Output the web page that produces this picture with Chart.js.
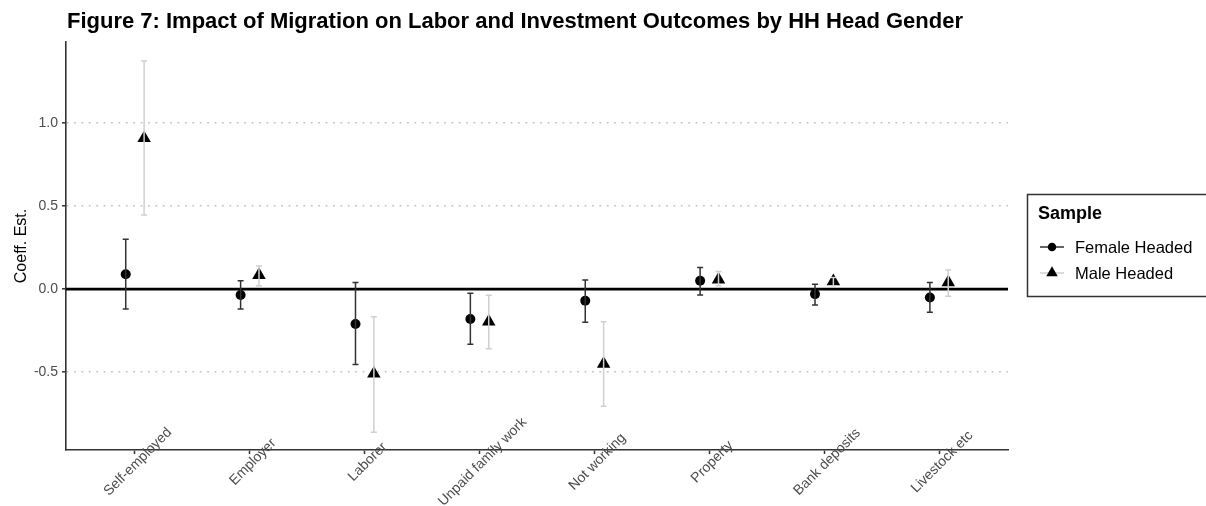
<!DOCTYPE html>
<html>
<head>
<meta charset="utf-8">
<script src="https://cdn.jsdelivr.net/npm/chart.js@4/dist/chart.umd.min.js"></script>
<style>
  body { margin: 0; background: #fff; }
  #wrap { width: 1206px; height: 506px; position: relative; }
</style>
</head>
<body>
<div id="wrap"><canvas id="coefChart"></canvas></div>
<script>
// outcome categories along the x axis
const categories = ['Self-employed', 'Employer', 'Laborer', 'Unpaid family work',
  'Not working', 'Property', 'Bank deposits', 'Livestock etc'];

// female headed households: estimate and CI bounds
const femaleEst  = [0.09, -0.035, -0.21, -0.18, -0.07, 0.05, -0.03, -0.05];
const femaleLow  = [-0.12, -0.12, -0.455, -0.333, -0.20, -0.035, -0.095, -0.14];
const femaleHigh = [0.30, 0.05, 0.04, -0.025, 0.055, 0.13, 0.03, 0.04];

// male headed households
const maleEst  = [0.91, 0.085, -0.51, -0.196, -0.45, 0.057, 0.047, 0.041];
const maleLow  = [0.447, 0.02, -0.863, -0.36, -0.706, 0.02, 0.02, -0.043];
const maleHigh = [1.376, 0.14, -0.166, -0.037, -0.196, 0.107, 0.07, 0.116];

const yTicks = [-0.5, 0.0, 0.5, 1.0];

const dodge = 0.08;
const FONT = "'Liberation Sans', Arial, Helvetica, sans-serif";
Chart.defaults.font.family = FONT;

function toPoints(vals, shift) {
  return vals.map(function(v, i) { return { x: i + shift, y: v }; });
}

// vertical CI bars with caps, drawn over the points
const errorBars = {
  id: 'errorBars',
  afterDatasetsDraw(chart) {
    const ctx = chart.ctx;
    const xs = chart.scales.x, ys = chart.scales.y;
    chart.data.datasets.forEach(function(ds) {
      ctx.save();
      ctx.strokeStyle = ds.errColor;
      ctx.lineWidth = 1.5;
      ds.data.forEach(function(p, i) {
        const x = xs.getPixelForValue(p.x);
        const y1 = ys.getPixelForValue(ds.errLow[i]);
        const y2 = ys.getPixelForValue(ds.errHigh[i]);
        ctx.beginPath();
        ctx.moveTo(x, y1); ctx.lineTo(x, y2);
        ctx.moveTo(x - 3, y1); ctx.lineTo(x + 3, y1);
        ctx.moveTo(x - 3, y2); ctx.lineTo(x + 3, y2);
        ctx.stroke();
      });
      ctx.restore();
    });
  }
};

// thick reference line at zero
const zeroLine = {
  id: 'zeroLine',
  beforeDatasetsDraw(chart) {
    const ctx = chart.ctx, a = chart.chartArea;
    const y = chart.scales.y.getPixelForValue(0);
    ctx.save();
    ctx.strokeStyle = '#000';
    ctx.lineWidth = 2.6;
    ctx.beginPath();
    ctx.moveTo(a.left, y); ctx.lineTo(a.right, y);
    ctx.stroke();
    ctx.restore();
  }
};

// title, rotated category labels and the legend box
const decorations = {
  id: 'decorations',
  afterDraw(chart) {
    const ctx = chart.ctx, a = chart.chartArea;
    const xs = chart.scales.x;
    ctx.save();

    ctx.fillStyle = '#000';
    ctx.font = 'bold 22px ' + FONT;
    ctx.textAlign = 'left';
    ctx.textBaseline = 'alphabetic';
    ctx.fillText('Figure 7: Impact of Migration on Labor and Investment Outcomes by HH Head Gender', 67, 28);

    ctx.font = '14px ' + FONT;
    ctx.fillStyle = '#4d4d4d';
    ctx.textAlign = 'center';
    ctx.textBaseline = 'middle';
    categories.forEach(function(c, i) {
      ctx.save();
      ctx.translate(xs.getPixelForValue(i) + 3, a.bottom + 12);
      ctx.rotate(-Math.PI / 4);
      ctx.fillText(c, 0, 0);
      ctx.restore();
    });

    // legend
    ctx.strokeStyle = '#333';
    ctx.lineWidth = 1.5;
    ctx.strokeRect(1027.5, 194.5, 190, 102);
    ctx.fillStyle = '#000';
    ctx.textAlign = 'left';
    ctx.font = 'bold 18px ' + FONT;
    ctx.fillText('Sample', 1038, 214);
    ctx.font = '16.5px ' + FONT;
    const rows = [{ ds: chart.data.datasets[0], y: 247, label: 'Female Headed' },
                  { ds: chart.data.datasets[1], y: 273, label: 'Male Headed' }];
    rows.forEach(function(r) {
      ctx.strokeStyle = r.ds.errColor;
      ctx.lineWidth = 1.5;
      ctx.beginPath();
      ctx.moveTo(1040, r.y); ctx.lineTo(1064, r.y);
      ctx.stroke();
      ctx.fillStyle = '#000';
      Chart.helpers.drawPoint(ctx, {
        pointStyle: r.ds.pointStyle, radius: r.ds.pointRadius * 0.85, rotation: 0, borderWidth: 0
      }, 1052, r.y);
      ctx.fillStyle = '#000';
      ctx.fillText(r.label, 1075, r.y + 1);
    });
    ctx.restore();
  }
};

new Chart(document.getElementById('coefChart'), {
  type: 'scatter',
  data: {
    datasets: [{
      label: 'Female Headed',
      data: toPoints(femaleEst, -dodge),
      errLow: femaleLow,
      errHigh: femaleHigh,
      errColor: '#333333',
      pointStyle: 'circle',
      pointRadius: 5,
      backgroundColor: '#000',
      borderColor: '#000',
      borderWidth: 0
    }, {
      label: 'Male Headed',
      data: toPoints(maleEst, dodge),
      errLow: maleLow,
      errHigh: maleHigh,
      errColor: '#d0d0d0',
      pointStyle: 'triangle',
      pointRadius: 7.8,
      backgroundColor: '#000',
      borderColor: '#000',
      borderWidth: 0
    }]
  },
  options: {
    responsive: true,
    maintainAspectRatio: false,
    animation: false,
    layout: { padding: { top: 42, right: 198, left: 0, bottom: 0 } },
    plugins: {
      legend: { display: false },
      tooltip: { enabled: false }
    },
    scales: {
      x: {
        type: 'linear',
        min: -0.6,
        max: categories.length - 0.4,
        afterBuildTicks: function(scale) {
          scale.ticks = categories.map(function(c, i) { return { value: i }; });
        },
        afterFit: function(scale) { scale.height = 56; },
        ticks: { display: false },
        grid: { drawOnChartArea: false, drawTicks: true, tickLength: 4, tickColor: '#333', tickWidth: 1.5 },
        border: { color: '#333', width: 1.6 }
      },
      y: {
        min: -0.97,
        max: 1.49,
        afterBuildTicks: function(scale) {
          scale.ticks = yTicks.map(function(v) { return { value: v }; });
        },
        afterFit: function(scale) { scale.width = 66; },
        ticks: {
          color: '#4d4d4d',
          font: { size: 14 },
          padding: 4,
          callback: function(v) { return v.toFixed(1); }
        },
        grid: {
          color: function(ctx) { return ctx.tick && ctx.tick.value === 0 ? 'rgba(0,0,0,0)' : '#c4c4c4'; },
          lineWidth: 1.6,
          tickLength: 4,
          tickColor: '#333',
          tickWidth: 1.5
        },
        border: { color: '#333', width: 1.6, dash: [1.8, 5.6] },
        title: {
          display: true,
          text: 'Coeff. Est.',
          color: '#000',
          font: { size: 16 },
          padding: { top: 12, bottom: 0 }
        }
      }
    }
  },
  plugins: [zeroLine, errorBars, decorations]
});
</script>
</body>
</html>
